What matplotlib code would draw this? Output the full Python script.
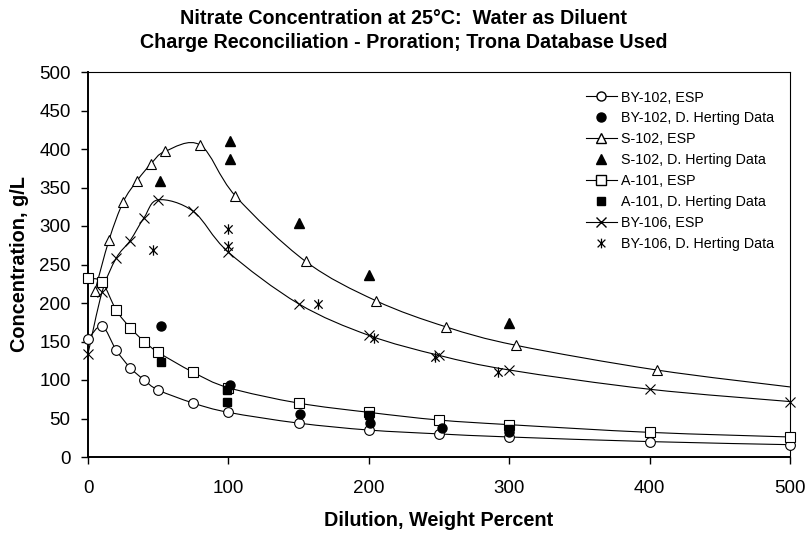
import numpy as np
import matplotlib
matplotlib.use("Agg")
import matplotlib.pyplot as plt
from matplotlib.path import Path
from matplotlib.patches import PathPatch
from matplotlib.lines import Line2D

plt.rcParams['font.family'] = ['Liberation Sans', 'DejaVu Sans']

# ---------------- data ----------------
by102_esp_x = [0, 10, 20, 30, 40, 50, 75, 100, 150, 200, 250, 300, 400, 500]
by102_esp_y = [153, 170, 139, 116, 100, 87, 70, 58, 44, 35, 30, 26, 20, 16]
by102_dh_x = [52, 101, 151, 201, 252, 300]
by102_dh_y = [170, 93, 56, 44, 38, 33]

s102_esp_x = [5, 15, 25, 35, 45, 55, 80, 105, 155, 205, 255, 305, 405, 500]
s102_esp_y = [216, 282, 331, 359, 381, 397, 405, 339, 254, 203, 169, 145, 113, 91]
s102_dh_x = [51, 101, 101, 150, 200, 300]
s102_dh_y = [358, 410, 387, 304, 237, 174]

a101_esp_x = [0, 10, 20, 30, 40, 50, 75, 100, 150, 200, 250, 300, 400, 500]
a101_esp_y = [232, 227, 191, 168, 150, 136, 110, 90, 70, 58, 48, 42, 32, 26]
a101_dh_x = [52, 99, 99, 200, 300]
a101_dh_y = [123, 87, 72, 54, 37]

by106_esp_x = [0, 10, 20, 30, 40, 50, 75, 100, 150, 200, 250, 300, 400, 500]
by106_esp_y = [134, 214, 258, 281, 311, 334, 319, 266, 199, 158, 132, 113, 88, 72]
by106_dh_x = [46, 100, 100, 164, 204, 247, 292]
by106_dh_y = [269, 296, 274, 199, 154, 130, 111]

labels = ["BY-102, ESP", "BY-102, D. Herting Data",
          "S-102, ESP", "S-102, D. Herting Data",
          "A-101, ESP", "A-101, D. Herting Data",
          "BY-106, ESP", "BY-106, D. Herting Data"]

title_lines = ["Nitrate Concentration at 25\u00b0C:  Water as Diluent",
               "Charge Reconciliation - Proration; Trona Database Used"]
xlabel = "Dilution, Weight Percent"
ylabel = "Concentration, g/L"
xticks = [0, 100, 200, 300, 400, 500]
yticks = [0, 50, 100, 150, 200, 250, 300, 350, 400, 450, 500]

# ---------------- helpers ----------------
star = Path([(-1, -1), (1, 1), (-1, 1), (1, -1), (0, -1.25), (0, 1.25)],
            [Path.MOVETO, Path.LINETO, Path.MOVETO, Path.LINETO, Path.MOVETO, Path.LINETO])


def smooth_path(x, y):
    pts = np.column_stack([x, y]).astype(float)
    n = len(pts)
    verts = [pts[0]]
    codes = [Path.MOVETO]
    for i in range(n - 1):
        p0 = pts[i - 1] if i > 0 else pts[i]
        p1 = pts[i]
        p2 = pts[i + 1]
        p3 = pts[i + 2] if i + 2 < n else pts[i + 1]
        c1 = p1 + (p2 - p0) / 6.0
        c2 = p2 - (p3 - p1) / 6.0
        verts += [c1, c2, p2]
        codes += [Path.CURVE4] * 3
    return Path(verts, codes)


W, H = 807, 535
fig = plt.figure(figsize=(W / 100, H / 100), dpi=100)
ax = fig.add_axes([88 / W, (H - 457) / H, (790 - 88) / W, (457 - 72) / H])

lw = 0.8
ms_open = 7
ms_fill = 6.5

series = [
    (by102_esp_x, by102_esp_y, 'o', None),
    (s102_esp_x, s102_esp_y, '^', list(range(len(s102_esp_x) - 1))),
    (a101_esp_x, a101_esp_y, 's', None),
    (by106_esp_x, by106_esp_y, 'x', None),
]
for x, y, m, me in series:
    ax.add_patch(PathPatch(smooth_path(x, y), fill=False, lw=lw, edgecolor='black', zorder=2))
    ax.plot(x, y, ls='none', marker=m, markevery=me, ms=ms_open if m != 'x' else 7.5,
            mfc='white' if m != 'x' else 'black', mec='black', mew=0.8, zorder=3, clip_on=False)

ax.plot(by102_dh_x, by102_dh_y, ls='none', marker='o', ms=ms_fill, color='black', zorder=4)
ax.plot(s102_dh_x, s102_dh_y, ls='none', marker='^', ms=ms_fill + 0.5, color='black', zorder=4)
ax.plot(a101_dh_x, a101_dh_y, ls='none', marker='s', ms=ms_fill - 0.5, color='black', zorder=4)
ax.plot(by106_dh_x, by106_dh_y, ls='none', marker=star, ms=7.5, mec='black', mfc='none', mew=0.9, zorder=4)

ax.set_xlim(0, 500)
ax.set_ylim(0, 500)
ax.set_xticks(xticks)
ax.set_yticks(yticks)
ax.tick_params(direction='out', length=5, width=1, labelsize=13.5, colors='black')
ax.tick_params(axis='y', pad=7.5)
ax.tick_params(axis='x', pad=11.5)
for s in ['left', 'bottom']:
    ax.spines[s].set_linewidth(1.4)
for s in ['top', 'right']:
    ax.spines[s].set_linewidth(0.8)

ax.set_xlabel(xlabel, fontsize=14.3, fontweight='bold', va='center')
ax.xaxis.set_label_coords(0.5, (457 - 521) / (457 - 72))
ax.set_ylabel(ylabel, fontsize=14.3, fontweight='bold', va='center')
ax.yaxis.set_label_coords((20 - 88) / (790 - 88), 0.5)

fig.text(0.5, 1 - 18 / H, title_lines[0], ha='center', va='center', fontsize=14.2, fontweight='bold')
fig.text(0.5, 1 - 42.5 / H, title_lines[1], ha='center', va='center', fontsize=14.2, fontweight='bold')

# legend
handles = [
    Line2D([], [], color='black', lw=lw, marker='o', mfc='white', mec='black', ms=6.5),
    Line2D([], [], ls='none', marker='o', color='black', ms=6.5),
    Line2D([], [], color='black', lw=lw, marker='^', mfc='white', mec='black', ms=6.5),
    Line2D([], [], ls='none', marker='^', color='black', ms=6.5),
    Line2D([], [], color='black', lw=lw, marker='s', mfc='white', mec='black', ms=6.5),
    Line2D([], [], ls='none', marker='s', color='black', ms=6),
    Line2D([], [], color='black', lw=lw, marker='x', mec='black', ms=7.5),
    Line2D([], [], ls='none', marker=star, mec='black', mfc='none', ms=7, mew=0.9),
]
leg = fig.legend(handles, labels, loc='upper left', bbox_to_anchor=(586 / W, 1 - 90.5 / H),
                 frameon=False, fontsize=10.3, handlelength=2.15, handletextpad=0.28,
                 labelspacing=0.48, borderpad=0, borderaxespad=0)

fig.savefig("out.png", dpi=100)
